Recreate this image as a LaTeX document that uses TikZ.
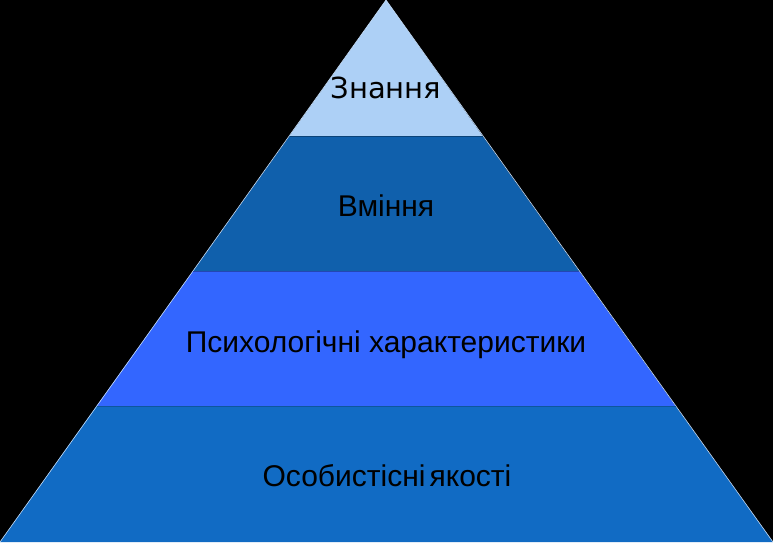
\documentclass[tikz,border=0pt]{standalone}
\usepackage{fontspec}
\setmainfont{Liberation Sans}
\newfontfamily\topfont{DejaVu Sans}
\usepackage{xcolor}
\usepackage{tikz}
\usetikzlibrary{positioning, calc}
\definecolor{toplight}{RGB}{173,208,246}
\definecolor{skillblue}{RGB}{16,96,172}
\definecolor{psyblue}{RGB}{51,102,255}
\definecolor{baseblue}{RGB}{17,107,196}
\tikzstyle{layer} = [draw=none]
\tikzstyle{label} = [draw=none, fill=none, font=\fontsize{30}{34}\selectfont, text=black, inner sep=0pt]

\begin{document}
\begin{tikzpicture}[x=1pt, y=-1pt]

% ===== BACKGROUND =====
\fill[black] (0,0) rectangle (773,542);
\useasboundingbox (0,0) rectangle (773,542);

% ===== PYRAMID LAYERS =====
\fill[layer, toplight] (386,0) -- (289.5,136) -- (482.5,136) -- cycle;
\fill[layer, skillblue] (289.5,136) -- (193,271) -- (579,271) -- (482.5,136) -- cycle;
\fill[layer, psyblue] (193,271) -- (96.5,406) -- (675.5,406) -- (579,271) -- cycle;
\fill[layer, baseblue] (96.5,406) -- (0,542) -- (773,542) -- (675.5,406) -- cycle;

% thin edges
\draw[toplight!70!white, line width=0.6pt] (0,542) -- (386,0) -- (773,542);
\draw[black!30!skillblue, line width=0.5pt] (289.5,136) -- (482.5,136);
\draw[black!30!psyblue, line width=0.5pt] (193,271) -- (579,271);
\draw[black!20!baseblue, line width=0.5pt] (96.5,406) -- (675.5,406);

% ===== LABELS =====
\node (knowledge) [label, font=\topfont\fontsize{29}{33}\selectfont, anchor=base] at (386,98) {Знання};
\node (skills) [label, anchor=base] at (386,216) {Вміння};
\node (psychology) [label, anchor=base] at (386,352) {Психологічні характеристики};
\node (personal) [label, anchor=base] at (387,486) {Особистісні\hspace{4pt}якості};

\end{tikzpicture}
\end{document}
